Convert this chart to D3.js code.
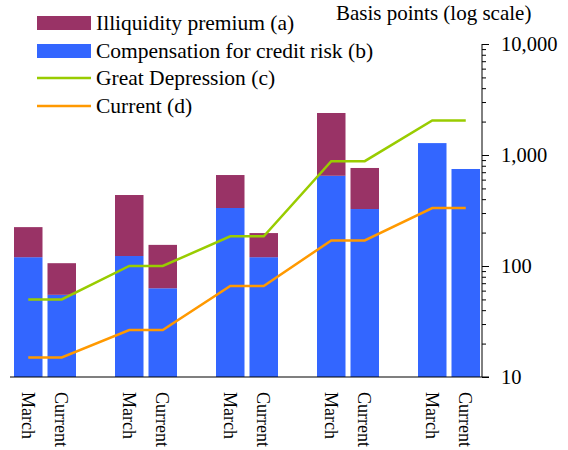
<!DOCTYPE html>
<html>
<head>
<meta charset="utf-8">
<script src="https://cdn.jsdelivr.net/npm/d3@7/dist/d3.min.js"></script>
<style>
  html, body { margin: 0; padding: 0; background: #fff; }
  svg { display: block; }
  text { font-family: "Liberation Serif", "Times New Roman", serif; fill: #000; }
</style>
</head>
<body>
<script>
// Five episodes, each with a "March" and a "Current" bar
const episodes = [1, 2, 3, 4, 5];
const periods = ["March", "Current"];

// Basis points, per episode: [March, Current]
const creditRisk = [[120, 55], [123, 63], [333, 120], [650, 326], [1280, 748]];
const illiquidity = [[104, 51], [313, 92], [327, 78], [1740, 438], [0, 0]];

// Reference levels per episode
const greatDepression = [50, 100, 185, 880, 2050];
const currentLevel = [15, 26.5, 66, 170, 333];

const yTicks = [10, 100, 1000, 10000];

const legendItems = [
  { label: "Illiquidity premium (a)", type: "rect", color: "#993366" },
  { label: "Compensation for credit risk (b)", type: "rect", color: "#3366FF" },
  { label: "Great Depression (c)", type: "line", color: "#99CC00" },
  { label: "Current (d)", type: "line", color: "#FF9900" }
];

const W = 568, H = 450;
const svg = d3.select("body").append("svg").attr("width", W).attr("height", H)
  .attr("font-family", '"Liberation Serif", "Times New Roman", serif');

const x0 = d3.scaleBand().domain(episodes).range([14, 480]).paddingInner(39 / 101).paddingOuter(0);
const x1 = d3.scaleBand().domain(periods).range([0, x0.bandwidth()]).paddingInner(5 / 33.5).paddingOuter(0);
const y = d3.scaleLog().domain([10, 10000]).range([377, 44]);

const axisX = 482;

// Bars: credit-risk compensation at the bottom, illiquidity premium stacked on top
const bars = svg.append("g");
episodes.forEach((ep, i) => {
  periods.forEach((p, j) => {
    const b = creditRisk[i][j];
    const a = illiquidity[i][j];
    const bx = x0(ep) + x1(p);
    bars.append("rect")
      .attr("x", bx).attr("width", x1.bandwidth())
      .attr("y", y(b)).attr("height", y(10) - y(b))
      .attr("fill", "#3366FF");
    if (a > 0) {
      bars.append("rect")
        .attr("x", bx).attr("width", x1.bandwidth())
        .attr("y", y(b + a)).attr("height", y(b) - y(b + a))
        .attr("fill", "#993366");
    }
  });
});

// Reference lines: flat across each episode, joined between episodes
function levelPoints(values) {
  const pts = [];
  episodes.forEach((ep, i) => {
    periods.forEach(p => pts.push([x0(ep) + x1(p) + x1.bandwidth() / 2, values[i]]));
  });
  return pts;
}
const line = d3.line().x(d => d[0]).y(d => y(d[1]));
svg.append("path").attr("d", line(levelPoints(greatDepression)))
  .attr("fill", "none").attr("stroke", "#99CC00").attr("stroke-width", 2.5);
svg.append("path").attr("d", line(levelPoints(currentLevel)))
  .attr("fill", "none").attr("stroke", "#FF9900").attr("stroke-width", 2.5);

// Right-hand log axis
const minorTicks = [];
for (let d = 10; d < 10000; d *= 10) {
  for (let k = 2; k <= 9; k++) minorTicks.push(d * k);
}
const axisG = svg.append("g").attr("transform", `translate(${axisX},0)`);
axisG.call(d3.axisRight(y).tickValues(minorTicks).tickSize(4).tickFormat(""))
  .call(g => g.select(".domain").remove());
axisG.append("g")
  .call(d3.axisRight(y).tickValues(yTicks).tickSize(7).tickPadding(12).tickFormat(d3.format(",")))
  .call(g => g.select(".domain").remove())
  .call(g => g.attr("font-family", null))
  .call(g => g.selectAll("text").attr("font-size", 20.5).attr("fill", "#000"));
axisG.selectAll("line").attr("stroke", "#000");
axisG.append("line").attr("x1", 0).attr("x2", 0).attr("y1", y(10000)).attr("y2", y(10))
  .attr("stroke", "#000");

// Baseline
svg.append("line").attr("x1", 10).attr("x2", axisX + 7)
  .attr("y1", y(10)).attr("y2", y(10)).attr("stroke", "#000").attr("stroke-width", 1.2);

// Period labels, rotated
episodes.forEach(ep => {
  periods.forEach(p => {
    const cx = x0(ep) + x1(p) + x1.bandwidth() / 2;
    svg.append("text")
      .attr("transform", `translate(${cx},392) rotate(90)`)
      .attr("dy", "0.35em")
      .attr("font-size", 18)
      .text(p);
  });
});

// Axis title
svg.append("text").attr("x", 336).attr("y", 20).attr("font-size", 21).text("Basis points (log scale)");

// Legend
const rowY = [23, 51, 78, 106];
legendItems.forEach((item, i) => {
  const cy = rowY[i];
  if (item.type === "rect") {
    svg.append("rect").attr("x", 37).attr("y", cy - 7).attr("width", 54).attr("height", 14).attr("fill", item.color);
  } else {
    svg.append("line").attr("x1", 37).attr("x2", 91).attr("y1", cy).attr("y2", cy)
      .attr("stroke", item.color).attr("stroke-width", 2.5);
  }
  svg.append("text").attr("x", 96).attr("y", cy + 7).attr("font-size", 21.5).text(item.label);
});
</script>
</body>
</html>
